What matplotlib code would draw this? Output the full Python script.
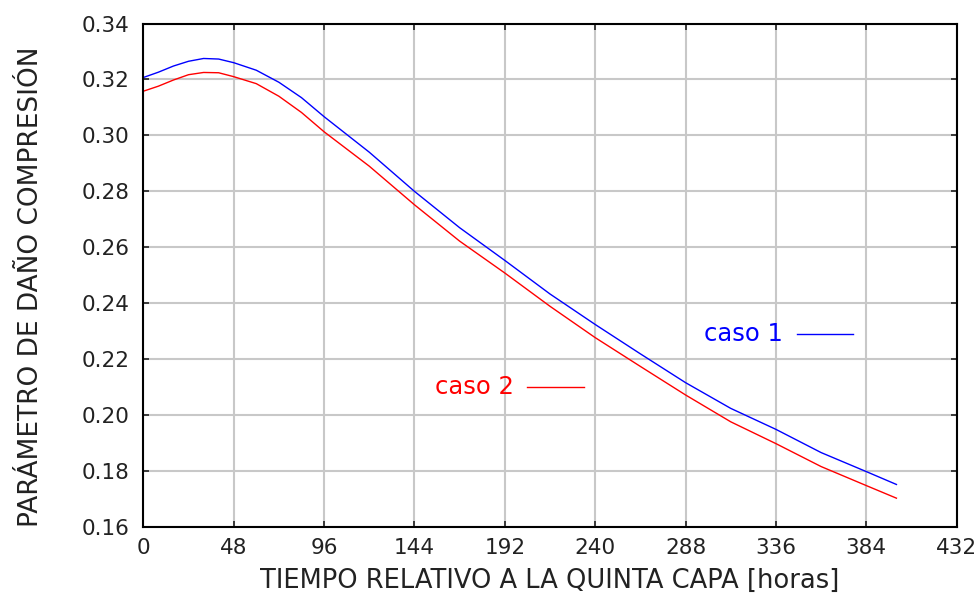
import matplotlib
matplotlib.use("Agg")
import matplotlib.pyplot as plt

plt.rcParams['font.family'] = ['DejaVu Sans']

horas = [0, 8, 16, 24, 32, 40, 48, 60, 72, 84, 96, 120, 144, 168, 192,
         216, 240, 264, 288, 312, 336, 360, 384, 400]
caso1 = [0.3207, 0.3226, 0.3248, 0.3265, 0.3275, 0.3273, 0.3260, 0.3233,
         0.3190, 0.3135, 0.3067, 0.2940, 0.2800, 0.2670, 0.2553, 0.2433,
         0.2324, 0.2219, 0.2116, 0.2024, 0.1949, 0.1866, 0.1798, 0.1752]
caso2 = [0.3158, 0.3176, 0.3198, 0.3217, 0.3225, 0.3224, 0.3210, 0.3185,
         0.3140, 0.3082, 0.3013, 0.2890, 0.2752, 0.2622, 0.2508, 0.2389,
         0.2277, 0.2174, 0.2072, 0.1976, 0.1898, 0.1816, 0.1748, 0.1703]

xticks = [0, 48, 96, 144, 192, 240, 288, 336, 384, 432]
yticks = [0.16, 0.18, 0.20, 0.22, 0.24, 0.26, 0.28, 0.30, 0.32, 0.34]

fig = plt.figure(figsize=(9.77, 6.0), dpi=100)
ax = fig.add_axes([0.1467, 0.1217, 0.8325, 0.8391])

ax.plot(horas, caso1, color='#0000ff', linewidth=1.0)
ax.plot(horas, caso2, color='#ff0000', linewidth=1.0)

ax.set_xlim(0, 432)
ax.set_ylim(0.16, 0.34)
ax.set_xticks(xticks)
ax.set_yticks(yticks)
ax.set_yticklabels(['%.2f' % v for v in yticks])
ax.grid(True, color='#c8c8c8', linewidth=1.5)
ax.set_axisbelow(True)
ax.tick_params(direction='in', length=4, width=1.2, top=True, right=True,
               labelsize=15.5, colors='#222222')
ax.tick_params(axis='y', pad=10)
ax.tick_params(axis='x', pad=8)
for s in ax.spines.values():
    s.set_linewidth(1.5)

ax.set_xlabel('TIEMPO RELATIVO A LA QUINTA CAPA [horas]', fontsize=18.5,
              labelpad=7, color='#222222')
ax.set_ylabel('PARÁMETRO DE DAÑO COMPRESIÓN', fontsize=19, labelpad=27,
              color='#222222', y=0.478)

# leyenda dentro del gráfico
ax.text(298, 0.2290, 'caso 1', color='#0000ff', fontsize=17.5, va='center')
ax.plot([347, 377], [0.2290, 0.2290], color='#0000ff', linewidth=1.0)
ax.text(155, 0.2101, 'caso 2', color='#ff0000', fontsize=17.5, va='center')
ax.plot([204, 234], [0.2101, 0.2101], color='#ff0000', linewidth=1.0)

fig.savefig('out.png', dpi=100)
